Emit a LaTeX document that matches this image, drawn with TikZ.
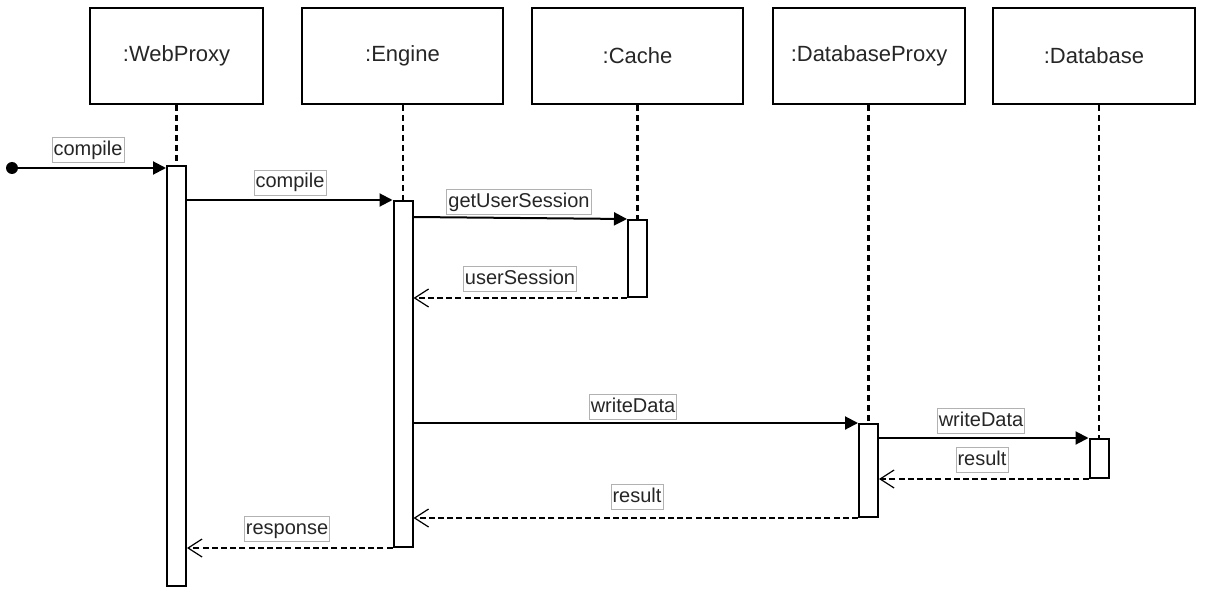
\documentclass[tikz,border=0pt]{standalone}
\usepackage{fontspec}
\setmainfont{Liberation Sans}
\usetikzlibrary{arrows.meta}

\begin{document}
\begin{tikzpicture}[x=0.5pt,y=-0.5pt,
		obj/.style={draw,line width=1pt,minimum height=48pt,inner sep=0pt,text=black!85,font=\fontsize{11}{13}\selectfont},
		act/.style={draw,line width=1pt,fill=white,anchor=north,minimum width=9.5pt,inner sep=0pt},
		life/.style={line width=1.1pt,dash pattern=on 3pt off 2pt},
		lbl/.style={draw=black!30,line width=0.4pt,fill=white,inner xsep=0.8pt,inner ysep=1.5pt,text height=7.5pt,text depth=2pt,text=black!85,font=\fontsize{10}{12}\selectfont},
		call/.style={line width=1pt,-{Triangle[length=6.5pt,width=6.5pt]}},
		ret/.style={line width=0.8pt,dash pattern=on 3pt off 1.6pt,-{Straight Barb[length=7pt,width=9pt,line width=0.6pt]}},
		dot/.style={circle,fill,minimum size=6pt,inner sep=0pt}]

		\useasboundingbox (0,0) rectangle (1208,588);

		\node[obj,minimum width=86.5pt] (wp) at (176.5,56) {:WebProxy};
		\node[obj,minimum width=100.5pt] (eng) at (402.5,56) {:Engine};
		\node[obj,minimum width=105.5pt] (cache) at (637.5,56) {:Cache};
		\node[obj,minimum width=96pt] (dbp) at (869,56) {:DatabaseProxy};
		\node[obj,minimum width=101pt] (db) at (1094,56) {:Database};

		\node[act,minimum height=210pt] (wp-act) at (176.5,165) {};
		\node[act,minimum height=173pt] (eng-act) at (403,200) {};
		\node[act,minimum height=38.5pt] (cache-act) at (637.5,219) {};
		\node[act,minimum height=46.5pt] (dbp-act) at (868.5,423) {};
		\node[act,minimum height=19.5pt] (db-act) at (1099,438) {};

		\foreach \o in {wp,eng,cache,dbp,db}
			\draw[life] (\o-act.north |- \o.south) -- (\o-act.north);

		\node[dot] (start) at (12,168) {};
		\draw[call] (start) -- (wp-act.west |- start);
		\draw[call] ([yshift=-17.5pt]wp-act.north east) -- (eng-act.north west);
		\draw[call] ([yshift=-8.5pt]eng-act.north east) -- (cache-act.north west);
		\draw[ret] (cache-act.south west) -- (eng-act.east |- cache-act.south);
		\draw[call] (eng-act.east |- dbp-act.north) -- (dbp-act.north west);
		\draw[call] ([yshift=-7.5pt]dbp-act.north east) -- (db-act.north west);
		\draw[ret] (db-act.south west) -- (dbp-act.east |- db-act.south);
		\draw[ret] (dbp-act.south west) -- (eng-act.east |- dbp-act.south);
		\draw[ret] (eng-act.south west) -- (wp-act.east |- eng-act.south);

		\node[lbl] (m1) at (88,150) {compile};
		\node[lbl] (m2) at (290,182.5) {compile};
		\node[lbl] (m3) at (519,202) {getUserSession};
		\node[lbl] (m4) at (520,279) {userSession};
		\node[lbl] (m5) at (633,407) {writeData};
		\node[lbl] (m6) at (981,421) {writeData};
		\node[lbl] (m7) at (982,460) {result};
		\node[lbl] (m8) at (637,497) {result};
		\node[lbl] (m9) at (287,529) {response};

	\end{tikzpicture}
\end{document}
